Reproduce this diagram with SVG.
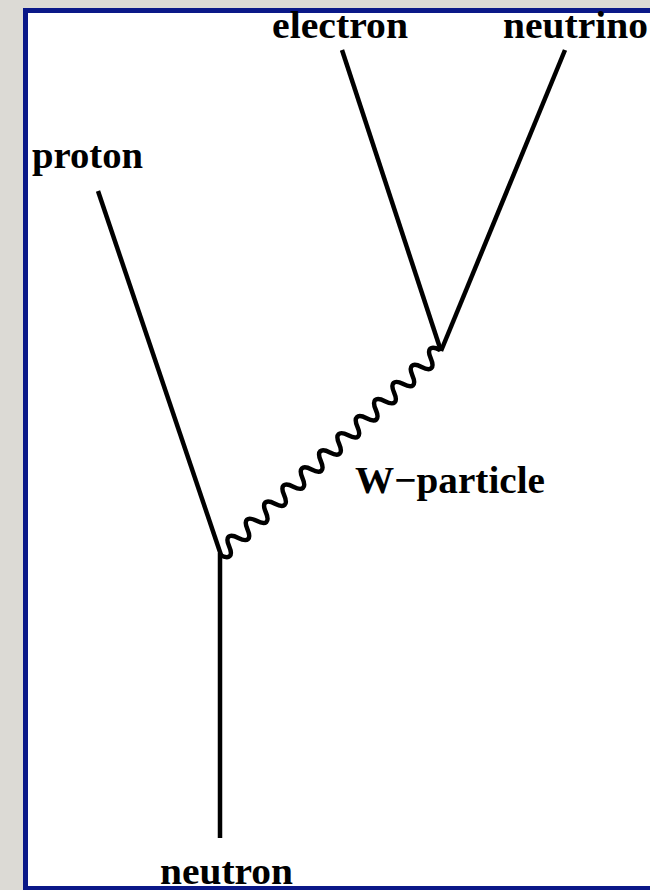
<svg xmlns="http://www.w3.org/2000/svg" width="650" height="890" viewBox="0 0 650 890">
  <style>
    .lbl { font-family: "Liberation Serif", "Times New Roman", serif; font-weight: bold; font-size: 38px; fill: #000; }
    .line { stroke: #000; stroke-width: 4.5; fill: none; stroke-linecap: butt; stroke-linejoin: round; }
  </style>
  <rect x="0" y="0" width="650" height="890" fill="#dcdad5"/>
  <rect x="25.5" y="10.5" width="700" height="878" fill="#ffffff" stroke="#0a1888" stroke-width="5"/>
  <g id="connectors">
    <line class="line" x1="98" y1="191" x2="221" y2="555"/>
    <line class="line" x1="220" y1="553" x2="220" y2="838"/>
    <line class="line" x1="342" y1="50" x2="441" y2="351"/>
    <line class="line" x1="565" y1="50" x2="441" y2="351"/>
    <g transform="translate(220,555) rotate(-43)">
      <path class="line" stroke-width="3.5" d="M0,0 c3.5,10 9,10 12.53,0 s9,-10 12.53,0 s9,10 12.53,0 s9,-10 12.53,0 s9,10 12.53,0 s9,-10 12.53,0 s9,10 12.53,0 s9,-10 12.53,0 s9,10 12.53,0 s9,-10 12.53,0 s9,10 12.53,0 s9,-10 12.53,0 s9,10 12.53,0 s9,-10 12.53,0 s9,10 12.53,0 s9,-10 12.53,0 s9,10 12.53,0 s9,-10 12.53,0 s9,10 12.53,0 s9,-10 12.53,0 s9,10 12.53,0 s9,-10 12.53,0 s9,10 12.53,0 s9,-10 12.53,0"/>
    </g>
  </g>
  <g id="proton"><text class="lbl" x="32" y="168" textLength="111" lengthAdjust="spacingAndGlyphs">proton</text></g>
  <g id="electron"><text class="lbl" x="272" y="38" textLength="136" lengthAdjust="spacingAndGlyphs">electron</text></g>
  <g id="neutrino"><text class="lbl" x="503" y="38" textLength="145" lengthAdjust="spacingAndGlyphs">neutrino</text></g>
  <g id="w-particle"><text class="lbl" x="355" y="493" textLength="190" lengthAdjust="spacingAndGlyphs">W−particle</text></g>
  <g id="neutron"><text class="lbl" x="160" y="884" textLength="133" lengthAdjust="spacingAndGlyphs">neutron</text></g>
</svg>
